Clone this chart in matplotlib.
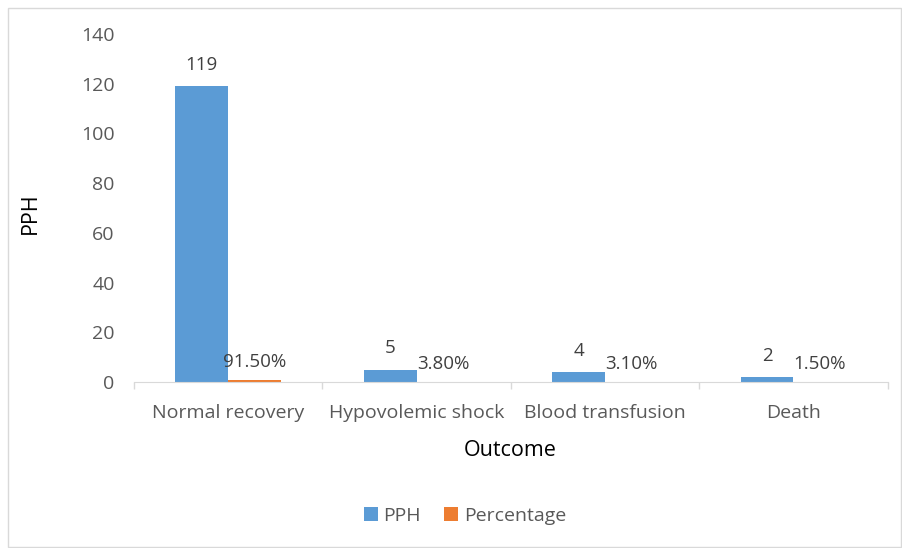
import numpy as np
import matplotlib.pyplot as plt
from matplotlib.patches import Rectangle

outcomes = ["Normal recovery", "Hypovolemic shock", "Blood transfusion", "Death"]
pph = [119, 5, 4, 2]
percentage = [0.915, 0.038, 0.031, 0.015]
pct_labels = ["91.50%", "3.80%", "3.10%", "1.50%"]

plt.rcParams['font.family'] = ['Open Sans', 'DejaVu Sans']
txt = '#595959'

fig = plt.figure(figsize=(9.02, 5.48), dpi=100)
fig.patches.append(Rectangle((8/902, 0.001), 893/902, 1-8/548-0.001, transform=fig.transFigure,
                             fill=False, edgecolor='#d9d9d9', lw=1))
ax = fig.add_axes([134/902, 1-382/548, (887.5-134)/902, (382-34)/548])

x = np.arange(len(outcomes))
w = 0.28
b1 = ax.bar(x - w/2, pph, w, color='#5b9bd5', label='PPH')
b2 = ax.bar(x + w/2, percentage, w, color='#ed7d31', label='Percentage')

for i in range(len(outcomes)):
    ax.text(x[i] - w/2, pph[i] + 5, str(pph[i]), ha='center', va='bottom',
            fontsize=13.5, color='#404040')
    ax.text(x[i] + w/2, percentage[i] + 3.5, pct_labels[i], ha='center', va='bottom',
            fontsize=13.5, color='#404040')

ax.set_xlim(-0.5, len(outcomes) - 0.5)
ax.set_ylim(0, 140)
ax.set_yticks(range(0, 141, 20))
ax.set_xticks(x)
ax.set_xticklabels(outcomes)
ax.set_xticks(np.arange(-0.5, len(outcomes)), minor=True)
ax.tick_params(axis='x', which='major', length=0, pad=16, labelsize=14, labelcolor=txt)
ax.tick_params(axis='x', which='minor', length=5, color='#d9d9d9', width=1)
ax.tick_params(axis='y', length=0, pad=14, labelsize=14, labelcolor=txt)
for s in ['top', 'right', 'left']:
    ax.spines[s].set_visible(False)
ax.spines['bottom'].set_color('#d9d9d9')

fig.text(510/902, 1-450/548, 'Outcome', ha='center', va='center', fontsize=15.5, color='black')
fig.text(30/902, 1-213/548, 'PPH', ha='center', va='center', rotation=90, fontsize=15.5, color='black')

fig.legend(handles=[b1, b2], loc='center', bbox_to_anchor=(465/902, 1-516/548), ncol=2,
           frameon=False, fontsize=14, handlelength=0.7, handleheight=0.7,
           columnspacing=1.2, handletextpad=0.3, labelcolor=txt)

fig.savefig('out.png', dpi=100)
